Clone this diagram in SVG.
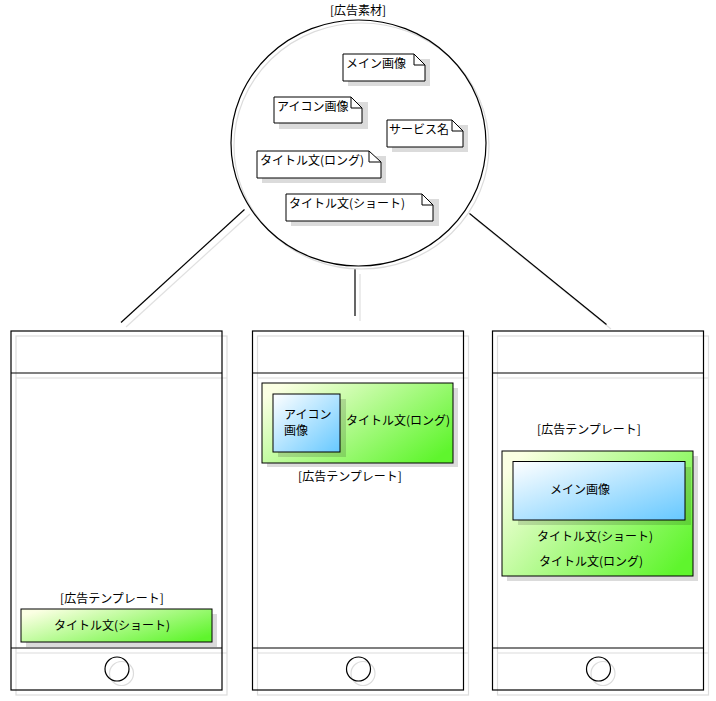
<svg xmlns="http://www.w3.org/2000/svg" width="716" height="701" viewBox="0 0 716 701">
<style>
text{font-family:"Noto Sans CJK JP","Liberation Sans",sans-serif;font-size:12px;fill:#000}
.c{text-anchor:middle}
.k{fill:none;stroke:#000;stroke-width:1.2}
.s{fill:none;stroke:#dcdcdc;stroke-width:1.2}
.sh{fill:#000;fill-opacity:0.14;stroke:none}
.note{fill:#fff;stroke:#000;stroke-width:1}
.ln{stroke:#000;stroke-width:1.2;fill:none}
.lns{stroke:#e0e0e0;stroke-width:1.2;fill:none}
</style>
<defs>
<linearGradient id="g" x1="0" y1="0.2" x2="1" y2="0.8">
<stop offset="0" stop-color="#fbffe3"/>
<stop offset="1" stop-color="#5ff52d"/>
</linearGradient>
<linearGradient id="b" x1="0" y1="0" x2="1" y2="1">
<stop offset="0" stop-color="#ffffff"/>
<stop offset="1" stop-color="#66c8ff"/>
</linearGradient>
<g id="phone">
<rect x="5" y="5" width="211" height="359" class="s"/>
<line x1="5" y1="47" x2="216" y2="47" class="s"/>
<line x1="5" y1="322" x2="216" y2="322" class="s"/>
<circle cx="110.5" cy="342.5" r="12" class="s"/>
<rect x="0" y="0" width="211" height="359" class="k"/>
<line x1="0" y1="42" x2="211" y2="42" class="k"/>
<line x1="0" y1="317" x2="211" y2="317" class="k"/>
<circle cx="106" cy="338" r="12" class="k"/>
</g>
</defs>

<g id="connectors">
<line x1="250" y1="214" x2="126" y2="327" class="lns"/>
<line x1="244.5" y1="209.5" x2="121" y2="322.5" class="ln"/>
<line x1="360" y1="274" x2="360" y2="321" class="lns"/>
<line x1="355" y1="269" x2="355" y2="316" class="ln"/>
<line x1="474" y1="218" x2="611" y2="329" class="lns"/>
<line x1="469.5" y1="213.5" x2="606.5" y2="324.5" class="ln"/>
</g>

<g id="ad-materials">
<text x="358" y="15" class="c">[広告素材]</text>
<ellipse cx="361.5" cy="146" rx="127.5" ry="123" class="s"/>
<ellipse cx="358.5" cy="143" rx="127.5" ry="123" fill="none" stroke="#000" stroke-width="1.2"/>
</g>

<g id="note-main-image">
<path d="M348 59h82v27h-82z" class="sh"/>
<path d="M343 54h71l11 11v16h-82z" class="note"/>
<path d="M414 54v11h11" fill="none" stroke="#000"/>
<text x="346" y="68">メイン画像</text>
</g>
<g id="note-icon-image">
<path d="M279 102h89v27h-89z" class="sh"/>
<path d="M274 97h77l11 11v15h-88z" class="note"/>
<path d="M351 97v11h11" fill="none" stroke="#000"/>
<text x="277" y="111">アイコン画像</text>
</g>
<g id="note-service-name">
<path d="M392 125h76v27h-76z" class="sh"/>
<path d="M387 120h65l11 11v16h-76z" class="note"/>
<path d="M452 120v11h11" fill="none" stroke="#000"/>
<text x="389" y="134">サービス名</text>
</g>
<g id="note-title-long">
<path d="M262 156h124v27h-124z" class="sh"/>
<path d="M257 151h112l12 11v16h-124z" class="note"/>
<path d="M369 151v11h12" fill="none" stroke="#000"/>
<text x="260" y="165">タイトル文(ロング)</text>
</g>
<g id="note-title-short">
<path d="M291 199h148v27h-148z" class="sh"/>
<path d="M286 194h136l11 11v16h-147z" class="note"/>
<path d="M422 194v11h11" fill="none" stroke="#000"/>
<text x="289" y="208">タイトル文(ショート)</text>
</g>

<g id="phone-1">
<use href="#phone" x="11" y="331"/>
<text x="112" y="603" class="c">[広告テンプレート]</text>
<rect x="26" y="614" width="191" height="33" class="sh"/>
<rect x="21" y="609" width="191" height="33" fill="url(#g)" stroke="#000" stroke-width="1"/>
<text x="112" y="630" class="c">タイトル文(ショート)</text>
</g>

<g id="phone-2">
<use href="#phone" x="252.5" y="331"/>
<rect x="267" y="388" width="191" height="79" class="sh"/>
<rect x="262" y="383" width="191" height="80" fill="url(#g)" stroke="#000" stroke-width="1"/>
<rect x="278" y="399" width="68" height="58" class="sh"/>
<rect x="273" y="394" width="67" height="58" fill="url(#b)" stroke="#000" stroke-width="1"/>
<text x="284" y="419">アイコン</text>
<text x="284" y="435">画像</text>
<text x="346" y="425">タイトル文(ロング)</text>
<text x="350" y="481" class="c">[広告テンプレート]</text>
</g>

<g id="phone-3">
<use href="#phone" x="492.5" y="331"/>
<text x="589" y="434" class="c">[広告テンプレート]</text>
<rect x="507" y="456" width="191" height="125" class="sh"/>
<rect x="502" y="451" width="191" height="125" fill="url(#g)" stroke="#000" stroke-width="1"/>
<rect x="518" y="467" width="173" height="58" class="sh"/>
<rect x="513" y="461.5" width="172" height="58.5" fill="url(#b)" stroke="#000" stroke-width="1"/>
<text x="550" y="494">メイン画像</text>
<text x="537" y="541">タイトル文(ショート)</text>
<text x="539" y="566">タイトル文(ロング)</text>
</g>
</svg>
